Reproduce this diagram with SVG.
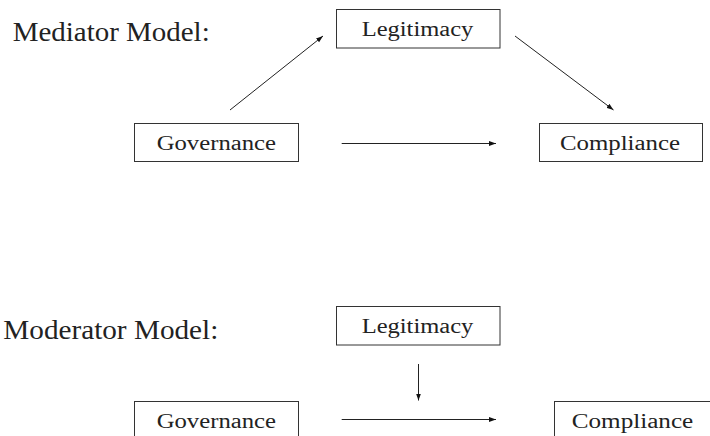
<svg xmlns="http://www.w3.org/2000/svg" width="710" height="436" viewBox="0 0 710 436">
<style>
.box{fill:#fff;stroke:#333;stroke-width:1}
.lbl{font-size:20px;fill:#222}
.title{font-size:26.5px;fill:#222}
.conn{stroke:#222;stroke-width:1;fill:none;marker-end:url(#ah)}
</style>
<defs>
<marker id="ah" markerUnits="userSpaceOnUse" markerWidth="8" markerHeight="6" refX="7" refY="3" orient="auto">
<path d="M0,0.5 L7,3 L0,5.5 Z" fill="#111"/>
</marker>
</defs>
<rect width="710" height="436" fill="#fff"/>
<g font-family="'Liberation Serif', 'DejaVu Serif', 'Noto Serif', 'Times New Roman', serif">
<text class="title" x="12.7" y="40.7" textLength="197" lengthAdjust="spacingAndGlyphs">Mediator Model:</text>
<text class="title" x="3.3" y="339" textLength="215" lengthAdjust="spacingAndGlyphs">Moderator Model:</text>
<g id="med-legitimacy">
<rect class="box" x="336.5" y="9.5" width="163.5" height="38.5"/>
<text class="lbl" x="361.7" y="36" textLength="111.6" lengthAdjust="spacingAndGlyphs">Legitimacy</text>
</g>
<g id="med-governance">
<rect class="box" x="134.5" y="123.5" width="164" height="38"/>
<text class="lbl" x="156.7" y="150" textLength="119.3" lengthAdjust="spacingAndGlyphs">Governance</text>
</g>
<g id="med-compliance">
<rect class="box" x="539.5" y="123.5" width="163" height="38"/>
<text class="lbl" x="560" y="150" textLength="120" lengthAdjust="spacingAndGlyphs">Compliance</text>
</g>
<g id="mod-legitimacy">
<rect class="box" x="336.5" y="306.5" width="163.5" height="38.5"/>
<text class="lbl" x="361.7" y="333" textLength="111.6" lengthAdjust="spacingAndGlyphs">Legitimacy</text>
</g>
<g id="mod-governance">
<rect class="box" x="134.5" y="401.5" width="164" height="40"/>
<text class="lbl" x="156.7" y="427.5" textLength="119.3" lengthAdjust="spacingAndGlyphs">Governance</text>
</g>
<g id="mod-compliance">
<rect class="box" x="554.5" y="401.5" width="170" height="40"/>
<text class="lbl" x="571.7" y="427.5" textLength="121.6" lengthAdjust="spacingAndGlyphs">Compliance</text>
</g>
</g>
<g id="connectors">
<line class="conn" x1="230" y1="110" x2="323" y2="36"/>
<line class="conn" x1="515" y1="36" x2="613.5" y2="110"/>
<line class="conn" x1="341.7" y1="143.5" x2="496" y2="143.5"/>
<line class="conn" x1="418.5" y1="364" x2="418.5" y2="400.5"/>
<line class="conn" x1="341.7" y1="419.5" x2="496" y2="419.5"/>
</g>
</svg>
